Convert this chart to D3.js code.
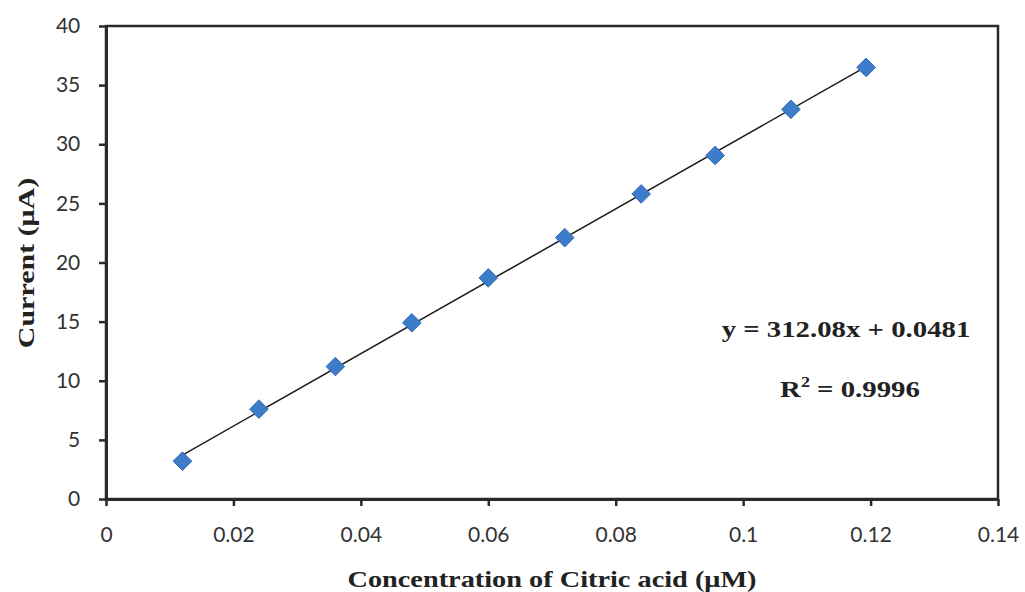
<!DOCTYPE html>
<html><head><meta charset="utf-8">
<script src="https://cdn.jsdelivr.net/npm/d3@7/dist/d3.min.js"></script>
<style>body{margin:0;background:#fff}svg{display:block}</style>
</head><body>
<script>
const concentrations = [0.012, 0.024, 0.036, 0.048, 0.060, 0.072, 0.084, 0.0956, 0.1075, 0.1193];
const currents = [3.2, 7.6, 11.2, 14.9, 18.7, 22.1, 25.8, 29.05, 32.95, 36.5];
const xTicks = [0, 0.02, 0.04, 0.06, 0.08, 0.1, 0.12, 0.14];
const yTicks = [0, 5, 10, 15, 20, 25, 30, 35, 40];
const eqText = "y = 312.08x + 0.0481";
const r2Value = "0.9996";

const W = 1025, H = 592;
const m = {left:106, right:1025-998, top:26, bottom:592-499};
const svg = d3.select("body").append("svg").attr("width", W).attr("height", H);
const x = d3.scaleLinear().domain([0, 0.14]).range([m.left, W - m.right]);
const y = d3.scaleLinear().domain([0, 40]).range([H - m.bottom, m.top]);
const tickFont = "Lato, 'Open Sans', sans-serif";

// border (top, right)
svg.append("rect").attr("x", x(0)).attr("y", y(40)).attr("width", x(0.14)-x(0)).attr("height", y(0)-y(40))
  .attr("fill","none").attr("stroke","#2a2a2a").attr("stroke-width",2.5);

const xAxis = svg.append("g").attr("transform", `translate(0,${y(0)})`)
  .call(d3.axisBottom(x).tickValues(xTicks).tickFormat(d => d3.format("~g")(d)).tickSize(7).tickSizeOuter(0));
const yAxis = svg.append("g").attr("transform", `translate(${x(0)},0)`)
  .call(d3.axisLeft(y).tickValues(yTicks).tickSize(7).tickSizeOuter(0));
[xAxis, yAxis].forEach(g => {
  g.select(".domain").attr("stroke","#2a2a2a").attr("stroke-width",3);
  g.selectAll(".tick line").attr("stroke","#2a2a2a").attr("stroke-width",2.5);
  g.selectAll(".tick text").attr("font-family", tickFont).attr("font-size", 21).attr("fill","#333");
});
xAxis.selectAll(".tick text").attr("dy","1.55em");
yAxis.selectAll(".tick text").attr("dx","-0.75em");

// least-squares trendline over the data
const mx = d3.mean(concentrations), my = d3.mean(currents);
const sxy = d3.sum(concentrations, (d,i) => (d-mx)*(currents[i]-my));
const sxx = d3.sum(concentrations, d => (d-mx)*(d-mx));
const slope = sxy/sxx, intercept = my - slope*mx;
const x0 = concentrations[0], x1 = concentrations[concentrations.length-1];
svg.append("line").attr("x1", x(x0)).attr("y1", y(slope*x0+intercept))
  .attr("x2", x(x1)).attr("y2", y(slope*x1+intercept))
  .attr("stroke","#1a1a1a").attr("stroke-width",1.5);

// markers
svg.append("g").selectAll("path").data(concentrations).join("path")
  .attr("d", d3.symbol().type(d3.symbolDiamond2).size(220))
  .attr("transform", (d,i) => `translate(${x(d)},${y(currents[i])})`)
  .attr("fill","#3d7cc9").attr("stroke","#2f6bb5").attr("stroke-width",1);

// equation
const serif = "'Liberation Serif', 'Times New Roman', serif";
svg.append("text").attr("transform","translate(846,337) scale(1.2,1)").attr("text-anchor","middle")
  .attr("font-family", serif).attr("font-weight","bold").attr("font-size",24).attr("fill","#222")
  .text(eqText);
const r2 = svg.append("text").attr("transform","translate(850,397) scale(1.2,1)").attr("text-anchor","middle")
  .attr("font-family", serif).attr("font-weight","bold").attr("font-size",24).attr("fill","#222");
r2.append("tspan").text("R");
r2.append("tspan").attr("dy",-10).attr("font-size",15).text("2");
r2.append("tspan").attr("dy",10).text(" = " + r2Value);

// axis titles
svg.append("text").attr("transform","translate(552,587) scale(1.18,1)").attr("text-anchor","middle")
  .attr("font-family", serif).attr("font-weight","bold").attr("font-size",24).attr("fill","#222")
  .text("Concentration of Citric acid (μM)");
svg.append("text").attr("transform","translate(34,263) rotate(-90) scale(1.25,1)").attr("text-anchor","middle")
  .attr("font-family", serif).attr("font-weight","bold").attr("font-size",24).attr("fill","#222")
  .text("Current (μA)");
</script>
</body></html>
